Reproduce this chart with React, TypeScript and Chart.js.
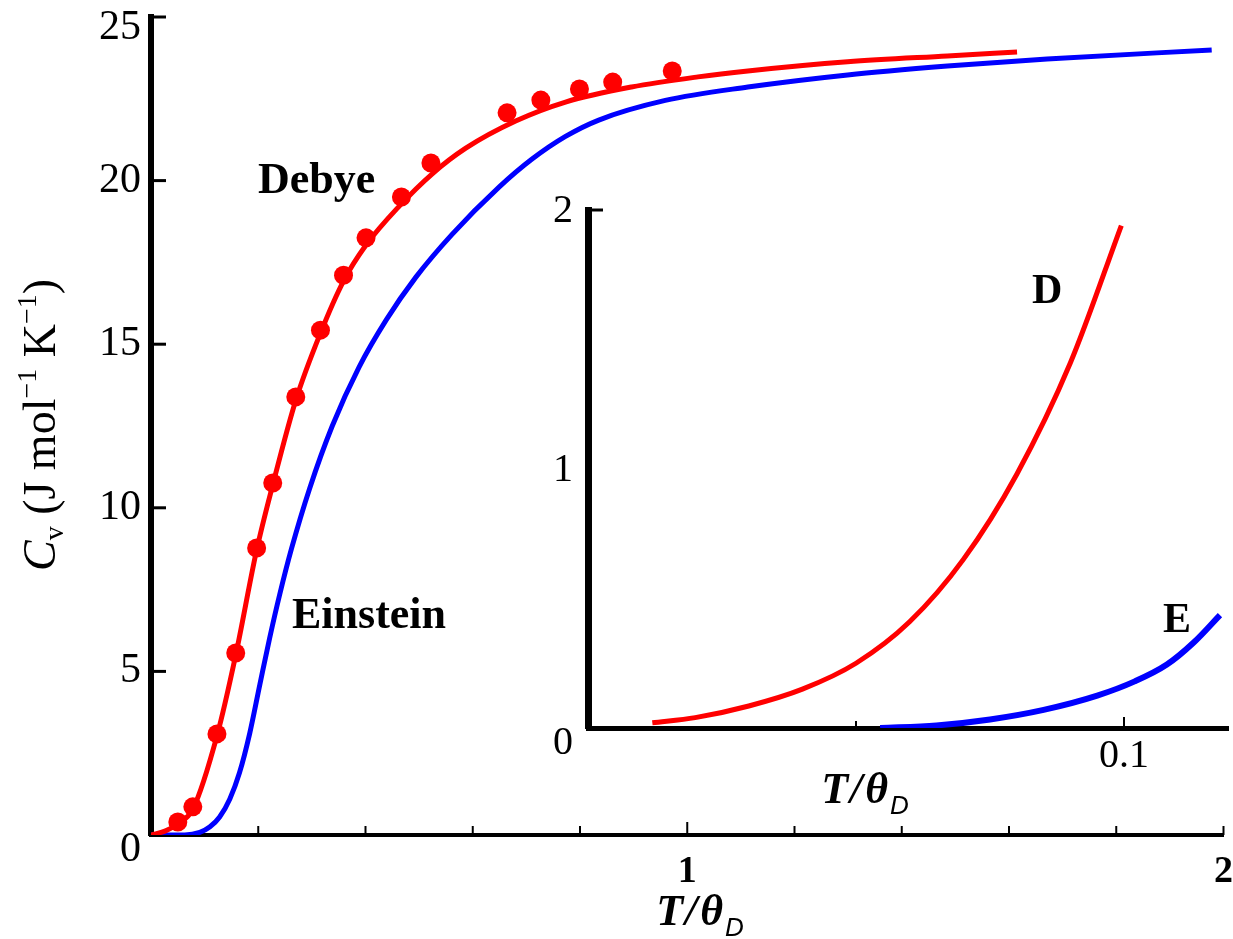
import React, { useEffect, useRef } from 'react';
import { Chart, registerables } from 'chart.js';

Chart.register(...registerables);

// ---------------- Main chart data ----------------
const debyeCurveX = [0, 0.026, 0.05, 0.078, 0.123, 0.158, 0.197, 0.227, 0.27, 0.316, 0.359, 0.401, 0.463, 0.524, 0.587, 0.68, 0.773, 0.896, 1.02, 1.113, 1.299, 1.485, 1.615];
const debyeCurveY = [0, 0.12, 0.34, 0.79, 3.03, 5.5, 8.71, 10.7, 13.29, 15.34, 16.93, 18.03, 19.22, 20.2, 20.99, 21.82, 22.4, 22.86, 23.17, 23.35, 23.63, 23.81, 23.93];

const einsteinCurveX = [0, 0.063, 0.091, 0.11, 0.128, 0.147, 0.165, 0.184, 0.203, 0.221, 0.24, 0.262, 0.296, 0.338, 0.388, 0.439, 0.494, 0.561, 0.649, 0.71, 0.773, 0.835, 0.959, 1.113, 1.299, 1.485, 1.671, 1.978];
const einsteinCurveY = [0, 0, 0.08, 0.25, 0.55, 1.1, 1.9, 3.1, 4.6, 6.0, 7.35, 8.75, 10.6, 12.5, 14.3, 15.75, 17.05, 18.35, 19.8, 20.65, 21.35, 21.85, 22.45, 22.86, 23.23, 23.5, 23.72, 23.99];

const debyeDataX = [0.05, 0.078, 0.123, 0.158, 0.197, 0.227, 0.27, 0.316, 0.359, 0.401, 0.467, 0.522, 0.664, 0.727, 0.799, 0.861, 0.972];
const debyeDataY = [0.4, 0.86, 3.09, 5.56, 8.77, 10.76, 13.39, 15.43, 17.11, 18.25, 19.5, 20.54, 22.07, 22.46, 22.8, 23.01, 23.35];

const mainYTicks = [0, 5, 10, 15, 20, 25];
const mainXTicks = [0, 0.2, 0.4, 0.6, 0.8, 1, 1.2, 1.4, 1.6, 1.8, 2];
const mainXLabelled = [1, 2];

// ---------------- Inset data ----------------
const insetDX = [0.012, 0.02, 0.03, 0.04, 0.05, 0.06, 0.07, 0.08, 0.09, 0.0995];
const insetDY = [0.02, 0.04, 0.085, 0.15, 0.25, 0.41, 0.65, 0.98, 1.41, 1.94];

const insetEX = [0.0545, 0.065, 0.075, 0.085, 0.095, 0.102, 0.108, 0.113, 0.1179];
const insetEY = [0, 0.01, 0.033, 0.07, 0.125, 0.18, 0.245, 0.33, 0.436];

const insetYTicks = [0, 1, 2];
const insetXTicks = [0, 0.05, 0.1];
const insetXLabelled = [0.1];

const RED = 'rgb(255,0,0)';
const BLUE = 'rgb(0,0,255)';
const SERIF = '"Liberation Serif", "Times New Roman", serif';
const SANS = '"Liberation Sans", Arial, sans-serif';

const pts = (xs: number[], ys: number[]) => xs.map((x, i) => ({ x, y: ys[i] }));

type Run = { t: string; f: string; dy?: number; gap?: number };

function runsWidth(ctx: CanvasRenderingContext2D, runs: Run[]) {
  let w = 0;
  for (const r of runs) {
    ctx.font = r.f;
    w += ctx.measureText(r.t).width + (r.gap || 0);
  }
  return w;
}

function drawRunsCentered(ctx: CanvasRenderingContext2D, runs: Run[], cx: number, baseY: number) {
  const w = runsWidth(ctx, runs);
  let x = cx - w / 2;
  ctx.textBaseline = 'alphabetic';
  ctx.textAlign = 'left';
  for (const r of runs) {
    ctx.font = r.f;
    ctx.fillText(r.t, x, baseY + (r.dy || 0));
    x += ctx.measureText(r.t).width + (r.gap || 0);
  }
}

const titleRuns = (size: number): Run[] => [
  { t: 'T', f: `bold italic ${size}px ${SERIF}`, gap: 2 },
  { t: '/', f: `bold italic ${size}px ${SERIF}`, gap: 3 },
  { t: '\u03B8', f: `bold italic ${size}px ${SERIF}`, gap: 2 },
  { t: 'D', f: `italic ${Math.round(size * 0.6)}px ${SANS}`, dy: 11 },
];

// y tick labels right-aligned left of the axis; the end labels sit a little lower, as in the source
function drawYLabels(ctx: CanvasRenderingContext2D, scale: any, values: number[], rightX: number, size: number, nudge: (v: number) => number) {
  ctx.font = `${size}px ${SERIF}`;
  ctx.textAlign = 'right';
  ctx.textBaseline = 'middle';
  for (const v of values) {
    ctx.fillText(String(v), rightX, scale.getPixelForValue(v) + nudge(v));
  }
}

const mainDecor = {
  id: 'mainDecor',
  afterDraw(chart: any) {
    const { ctx, chartArea, scales } = chart;
    const xs = scales.x;
    const ys = scales.y;
    ctx.save();
    ctx.strokeStyle = '#000';
    ctx.fillStyle = '#000';
    ctx.lineCap = 'butt';
    ctx.lineWidth = 3;
    for (const v of mainYTicks) {
      if (v === 0) continue;
      const py = ys.getPixelForValue(v);
      ctx.beginPath();
      ctx.moveTo(chartArea.left, py);
      ctx.lineTo(chartArea.left + 15, py);
      ctx.stroke();
    }
    ctx.lineWidth = 2;
    for (const v of mainXTicks) {
      if (v === 0) continue;
      const px = xs.getPixelForValue(v);
      const len = v === 1 ? 13 : 9;
      ctx.beginPath();
      ctx.moveTo(px, chartArea.bottom);
      ctx.lineTo(px, chartArea.bottom - len);
      ctx.stroke();
    }
    drawYLabels(ctx, ys, mainYTicks, chartArea.left - 10, 42, (v) => (v === 25 ? 11 : v === 0 ? 15 : 0));
    drawRunsCentered(ctx, titleRuns(44), 700, 925);
    ctx.save();
    ctx.translate(55, 425);
    ctx.rotate(-Math.PI / 2);
    const yRuns: Run[] = [
      { t: 'C', f: `italic 46px ${SERIF}` },
      { t: 'v', f: `28px ${SERIF}`, dy: 8 },
      { t: ' (J mol', f: `46px ${SERIF}` },
      { t: '\u22121', f: `28px ${SERIF}`, dy: -19 },
      { t: ' K', f: `46px ${SERIF}` },
      { t: '\u22121', f: `28px ${SERIF}`, dy: -19 },
      { t: ')', f: `46px ${SERIF}` },
    ];
    drawRunsCentered(ctx, yRuns, 0, 0);
    ctx.restore();
    ctx.font = `bold 44px ${SERIF}`;
    ctx.textAlign = 'left';
    ctx.textBaseline = 'alphabetic';
    ctx.fillText('Debye', 258, 193);
    ctx.fillText('Einstein', 292, 628);
    ctx.restore();
  },
};

const insetDecor = {
  id: 'insetDecor',
  afterDraw(chart: any) {
    const { ctx, chartArea, scales } = chart;
    const xs = scales.x;
    const ys = scales.y;
    const offX = 480;
    const offY = 170;
    ctx.save();
    ctx.strokeStyle = '#000';
    ctx.fillStyle = '#000';
    ctx.lineWidth = 3;
    const pyTop = ys.getPixelForValue(2);
    ctx.beginPath();
    ctx.moveTo(chartArea.left, pyTop);
    ctx.lineTo(chartArea.left + 15, pyTop);
    ctx.stroke();
    ctx.lineWidth = 2;
    for (const v of insetXTicks) {
      if (v === 0) continue;
      const px = xs.getPixelForValue(v);
      const len = v === 0.1 ? 11 : 7;
      ctx.beginPath();
      ctx.moveTo(px, chartArea.bottom);
      ctx.lineTo(px, chartArea.bottom - len);
      ctx.stroke();
    }
    drawYLabels(ctx, ys, insetYTicks, chartArea.left - 15, 40, (v) => (v === 0 ? 15 : 1));
    drawRunsCentered(ctx, titleRuns(44), 865 - offX, 803 - offY);
    ctx.font = `bold 42px ${SERIF}`;
    ctx.textAlign = 'left';
    ctx.textBaseline = 'alphabetic';
    ctx.fillText('D', 1032 - offX, 303 - offY);
    ctx.fillText('E', 1163 - offX, 632 - offY);
    ctx.restore();
  },
};

export default function App() {
  const mainRef = useRef<HTMLCanvasElement>(null);
  const insetRef = useRef<HTMLCanvasElement>(null);

  useEffect(() => {
    Chart.defaults.font.family = SERIF;
    const main = new Chart(mainRef.current as HTMLCanvasElement, {
      type: 'scatter',
      data: {
        datasets: [
          {
            label: 'Debye data',
            data: pts(debyeDataX, debyeDataY),
            showLine: false,
            pointRadius: 9.5,
            pointBackgroundColor: RED,
            pointBorderWidth: 0,
            borderColor: RED,
          },
          {
            label: 'Debye',
            data: pts(debyeCurveX, debyeCurveY),
            showLine: true,
            borderColor: RED,
            borderWidth: 5,
            pointRadius: 0,
            cubicInterpolationMode: 'monotone',
          },
          {
            label: 'Einstein',
            data: pts(einsteinCurveX, einsteinCurveY),
            showLine: true,
            borderColor: BLUE,
            borderWidth: 5,
            pointRadius: 0,
            cubicInterpolationMode: 'monotone',
          },
        ],
      },
      options: {
        responsive: false,
        maintainAspectRatio: false,
        animation: false,
        devicePixelRatio: 1,
        layout: { padding: { left: 0, top: 17, right: 5, bottom: 0 } },
        plugins: { legend: { display: false }, tooltip: { enabled: false } },
        scales: {
          x: {
            type: 'linear',
            min: 0,
            max: 2,
            afterBuildTicks: (s: any) => {
              s.ticks = mainXTicks.map((v) => ({ value: v }));
            },
            afterFit: (s: any) => {
              s.height = 104;
              s.paddingLeft = 0;
              s.paddingRight = 0;
            },
            grid: { display: false, drawTicks: false },
            border: { display: true, color: '#000', width: 4 },
            ticks: {
              autoSkip: false,
              maxRotation: 0,
              padding: 14,
              color: '#000',
              font: { family: SERIF, size: 38, weight: 'bold' },
              callback: (v: any) => (mainXLabelled.includes(Number(v)) ? String(v) : ''),
            },
          },
          y: {
            type: 'linear',
            min: 0,
            max: 25,
            afterBuildTicks: (s: any) => {
              s.ticks = mainYTicks.map((v) => ({ value: v }));
            },
            afterFit: (s: any) => {
              s.width = 151;
              s.paddingTop = 0;
              s.paddingBottom = 0;
            },
            grid: { display: false, drawTicks: false },
            border: { display: true, color: '#000', width: 6 },
            ticks: { display: false },
          },
        },
      } as any,
      plugins: [mainDecor],
    });

    const inset = new Chart(insetRef.current as HTMLCanvasElement, {
      type: 'scatter',
      data: {
        datasets: [
          {
            label: 'D',
            data: pts(insetDX, insetDY),
            showLine: true,
            borderColor: RED,
            borderWidth: 5,
            pointRadius: 0,
            cubicInterpolationMode: 'monotone',
          },
          {
            label: 'E',
            data: pts(insetEX, insetEY),
            showLine: true,
            borderColor: BLUE,
            borderWidth: 6,
            pointRadius: 0,
            cubicInterpolationMode: 'monotone',
          },
        ],
      },
      options: {
        responsive: false,
        maintainAspectRatio: false,
        animation: false,
        devicePixelRatio: 1,
        layout: { padding: { left: 0, top: 40, right: 5, bottom: 0 } },
        plugins: { legend: { display: false }, tooltip: { enabled: false } },
        scales: {
          x: {
            type: 'linear',
            min: 0,
            max: 0.1194,
            afterBuildTicks: (s: any) => {
              s.ticks = insetXTicks.map((v) => ({ value: v }));
            },
            afterFit: (s: any) => {
              s.height = 102;
              s.paddingLeft = 0;
              s.paddingRight = 0;
            },
            grid: { display: false, drawTicks: false },
            border: { display: true, color: '#000', width: 5 },
            ticks: {
              autoSkip: false,
              maxRotation: 0,
              padding: 4,
              color: '#000',
              font: { family: SERIF, size: 40 },
              callback: (v: any) => (insetXLabelled.includes(Number(v)) ? String(v) : ''),
            },
          },
          y: {
            type: 'linear',
            min: 0,
            max: 2,
            afterBuildTicks: (s: any) => {
              s.ticks = insetYTicks.map((v) => ({ value: v }));
            },
            afterFit: (s: any) => {
              s.width = 108;
              s.paddingTop = 0;
              s.paddingBottom = 0;
            },
            grid: { display: false, drawTicks: false },
            border: { display: true, color: '#000', width: 7 },
            ticks: { display: false },
          },
        },
      } as any,
      plugins: [insetDecor],
    });

    return () => {
      main.destroy();
      inset.destroy();
    };
  }, []);

  return (
    <div
      style={{
        position: 'fixed',
        left: 0,
        top: 0,
        width: 1233,
        height: 939,
        background: '#fff',
        overflow: 'hidden',
      }}
    >
      <canvas
        ref={mainRef}
        width={1233}
        height={939}
        style={{ position: 'absolute', left: 0, top: 0, width: 1233, height: 939 }}
      />
      <canvas
        ref={insetRef}
        width={753}
        height={660}
        style={{ position: 'absolute', left: 480, top: 170, width: 753, height: 660 }}
      />
    </div>
  );
}
